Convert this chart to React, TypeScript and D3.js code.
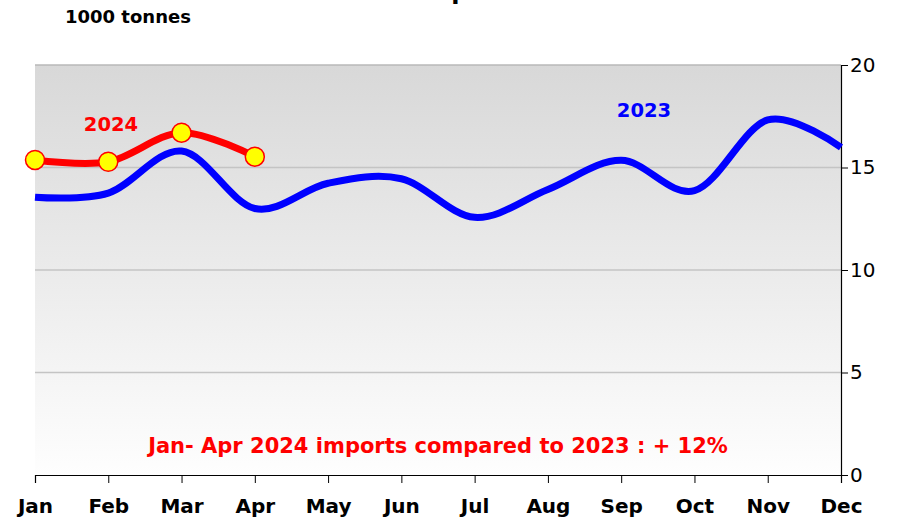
import React, { useRef, useEffect } from 'react';
import * as d3 from 'd3';

const months = ['Jan', 'Feb', 'Mar', 'Apr', 'May', 'Jun', 'Jul', 'Aug', 'Sep', 'Oct', 'Nov', 'Dec'];
const imports2023 = [13.55, 13.75, 15.8, 13.0, 14.23, 14.45, 12.57, 13.93, 15.35, 13.87, 17.32, 15.98];
const imports2024 = [15.37, 15.28, 16.7, 15.53];
const yTicks = [0, 5, 10, 15, 20];

const W = 908;
const H = 520;
const FONT = '"DejaVu Sans", Verdana, sans-serif';

const ImportsChart = () => {
    const svgRef = useRef<SVGSVGElement>(null);

    useEffect(() => {
        const svg = d3.select(svgRef.current);
        svg.selectAll('*').remove();

        const left = 35;
        const right = 841;
        const top = 65;
        const bottom = 475;

        const x = d3.scalePoint<string>().domain(months).range([left, right]);
        const y = d3.scaleLinear().domain([0, 20]).range([bottom, top]);

        const defs = svg.append('defs');
        const grad = defs
            .append('linearGradient')
            .attr('id', 'bg')
            .attr('x1', 0).attr('y1', 0)
            .attr('x2', 0).attr('y2', 1);
        grad.append('stop').attr('offset', '0%').attr('stop-color', '#d8d8d8');
        grad.append('stop').attr('offset', '100%').attr('stop-color', '#fefefe');

        // title, mostly cropped by the top edge as in the original
        svg.append('text')
            .attr('x', 415).attr('y', -1)
            .attr('text-anchor', 'middle')
            .attr('font-family', FONT).attr('font-weight', 'bold').attr('font-size', 24)
            .text('EU Rice Imports');

        svg.append('text')
            .attr('x', 65).attr('y', 23)
            .attr('font-family', FONT).attr('font-weight', 'bold').attr('font-size', 18)
            .text('1000 tonnes');

        svg.append('rect')
            .attr('x', left).attr('y', top)
            .attr('width', right - left).attr('height', bottom - top)
            .attr('fill', 'url(#bg)');

        // gridlines
        svg.append('g')
            .selectAll('line')
            .data(yTicks.filter(d => d > 0))
            .join('line')
            .attr('x1', left).attr('x2', right)
            .attr('y1', d => y(d)).attr('y2', d => y(d))
            .attr('stroke', d => (d === 20 ? '#b8b8b8' : '#c4c4c4'))
            .attr('stroke-width', 1.3);

        const xAxis = d3.axisBottom(x).tickSize(8).tickPadding(16);
        const gx = svg.append('g')
            .attr('transform', `translate(0,${bottom})`)
            .call(xAxis);
        gx.select('.domain').attr('stroke', '#000').attr('stroke-width', 1.2);
        gx.selectAll('.tick line').attr('stroke', '#000').attr('stroke-width', 1);
        gx.selectAll('.tick text')
            .attr('font-family', FONT).attr('font-weight', 'bold').attr('font-size', 20)
            .attr('fill', '#000');

        const yAxis = d3.axisRight(y).tickValues(yTicks).tickSize(7).tickPadding(2);
        const gy = svg.append('g')
            .attr('transform', `translate(${right},0)`)
            .call(yAxis);
        gy.select('.domain').attr('stroke', '#000').attr('stroke-width', 1.2);
        gy.selectAll('.tick line').attr('stroke', '#000').attr('stroke-width', 1);
        gy.selectAll('.tick text')
            .attr('font-family', FONT).attr('font-size', 20)
            .attr('fill', '#000');

        const line = d3
            .line<number>()
            .x((d, i) => x(months[i]) as number)
            .y(d => y(d))
            .curve(d3.curveCatmullRom.alpha(0));

        svg.append('path')
            .datum(imports2023)
            .attr('fill', 'none')
            .attr('stroke', '#0000ff')
            .attr('stroke-width', 7)
            .attr('d', line);

        svg.append('path')
            .datum(imports2024)
            .attr('fill', 'none')
            .attr('stroke', '#ff0000')
            .attr('stroke-width', 7)
            .attr('d', line);

        svg.append('g')
            .selectAll('circle')
            .data(imports2024)
            .join('circle')
            .attr('cx', (d, i) => x(months[i]) as number)
            .attr('cy', d => y(d))
            .attr('r', 9.5)
            .attr('fill', '#ffff00')
            .attr('stroke', '#ff0000')
            .attr('stroke-width', 1.5);

        svg.append('text')
            .attr('x', 111).attr('y', 131)
            .attr('text-anchor', 'middle')
            .attr('font-family', FONT).attr('font-weight', 'bold').attr('font-size', 19.5)
            .attr('fill', '#ff0000')
            .text('2024');

        svg.append('text')
            .attr('x', 644).attr('y', 117)
            .attr('text-anchor', 'middle')
            .attr('font-family', FONT).attr('font-weight', 'bold').attr('font-size', 19.5)
            .attr('fill', '#0000ff')
            .text('2023');

        svg.append('text')
            .attr('x', 438).attr('y', 453)
            .attr('text-anchor', 'middle')
            .attr('font-family', FONT).attr('font-weight', 'bold').attr('font-size', 21)
            .attr('fill', '#ff0000')
            .text('Jan- Apr 2024 imports compared to 2023 : + 12%');
    }, []);

    return <svg ref={svgRef} width={W} height={H} style={{ position: 'absolute', left: 0, top: 0 }} />;
};

export default function App() {
    return <ImportsChart />;
}
